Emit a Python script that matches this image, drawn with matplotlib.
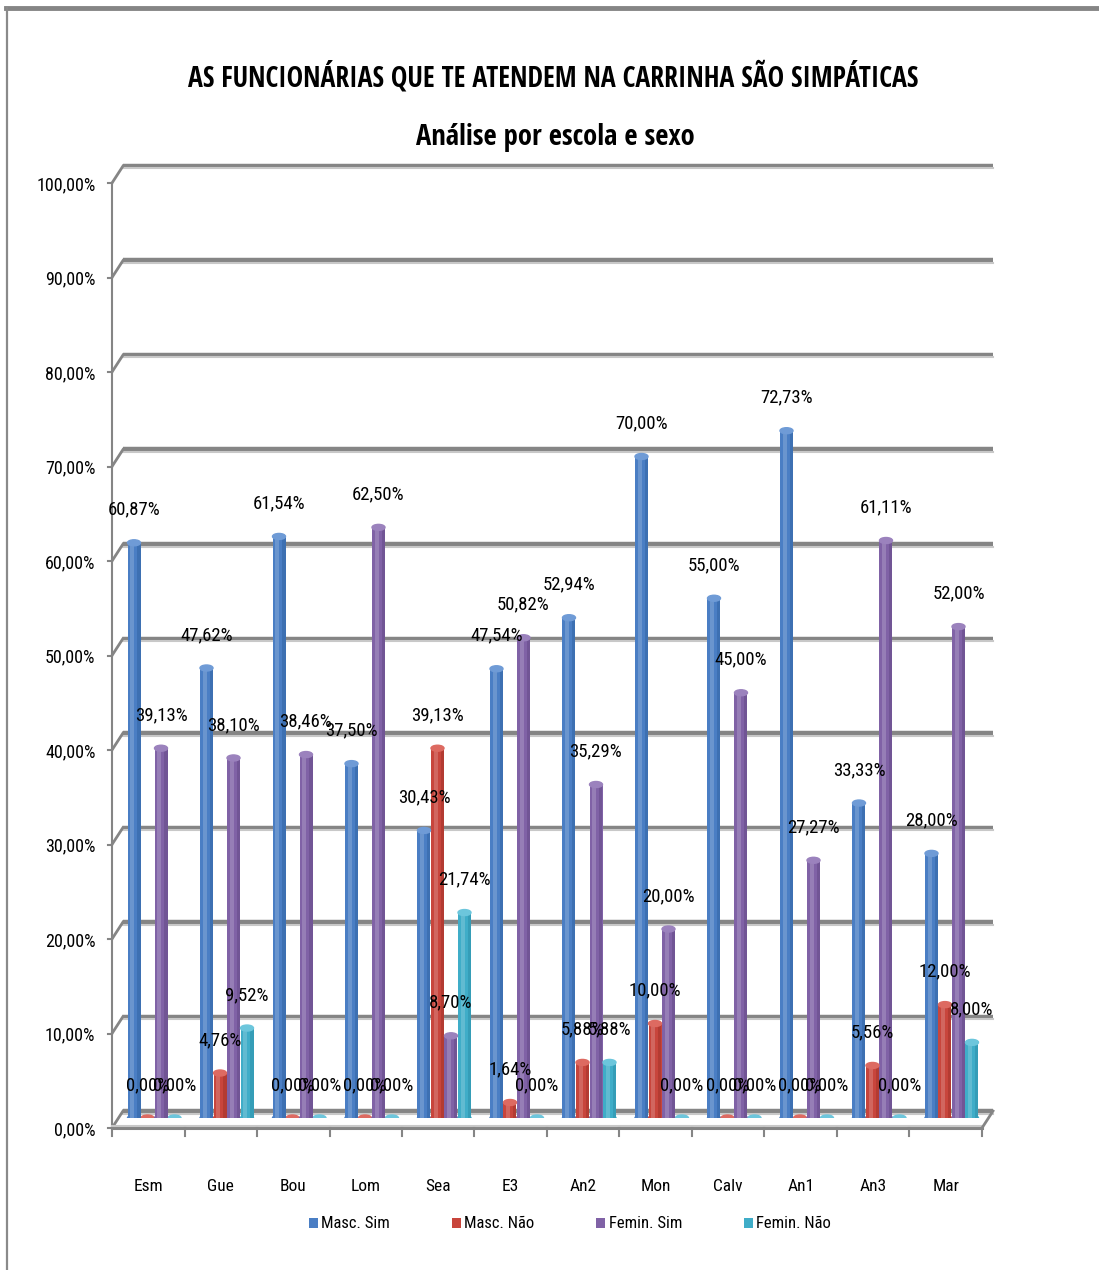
import matplotlib
matplotlib.use("Agg")
import matplotlib.pyplot as plt
from matplotlib.patches import Ellipse, Patch
import matplotlib.transforms as mtrans
import numpy as np

categories = ["Esm", "Gue", "Bou", "Lom", "Sea", "E3", "An2", "Mon", "Calv", "An1", "An3", "Mar"]
masc_sim = [60.87, 47.62, 61.54, 37.50, 30.43, 47.54, 52.94, 70.00, 55.00, 72.73, 33.33, 28.00]
masc_nao = [0.00, 4.76, 0.00, 0.00, 39.13, 1.64, 5.88, 10.00, 0.00, 0.00, 5.56, 12.00]
femin_sim = [39.13, 38.10, 38.46, 62.50, 8.70, 50.82, 35.29, 20.00, 45.00, 27.27, 61.11, 52.00]
femin_nao = [0.00, 9.52, 0.00, 0.00, 21.74, 0.00, 5.88, 0.00, 0.00, 0.00, 0.00, 8.00]
series_names = ["Masc. Sim", "Masc. Não", "Femin. Sim", "Femin. Não"]
yticks = [0, 10, 20, 30, 40, 50, 60, 70, 80, 90, 100]
title1 = "AS FUNCIONÁRIAS QUE TE ATENDEM NA CARRINHA SÃO SIMPÁTICAS"
title2 = "Análise por escola e sexo"

series = [masc_sim, masc_nao, femin_sim, femin_nao]
colors = ["#4a7ec4", "#c8453c", "#8062a6", "#3fadc8"]
caps = ["#6f9bd6", "#dd6a61", "#9b82bd", "#6cc6dc"]
darks = ["#2f5f9e", "#9a2f28", "#5f4782", "#2a8aa3"]

LBL = ["Roboto Condensed", "DejaVu Sans"]
TTL = ["Open Sans Condensed", "DejaVu Sans"]
plt.rcParams["font.family"] = LBL

W, H = 1099, 1270
fig = plt.figure(figsize=(W / 100, H / 100), dpi=100)
fig.patch.set_facecolor("white")

ax = fig.add_axes([112 / W, (H - 1118) / H, 870 / W, (1118 - 173) / H])
ax.set_xlim(-0.5, 11.5)
ax.set_ylim(0, 100)
for s in ax.spines.values():
    s.set_visible(False)
ax.patch.set_alpha(0)

pxx = 870 / 12.0
pxy = (1118 - 173) / 100.0
bdx = 11 / pxx
bdy = 7 / pxy
fdy = -10 / pxy

grid_c = "#858585"
light_c = "#c8c8c8"
for v in yticks:
    yb = v + bdy
    ax.plot([-0.5 + bdx, 11.5 + bdx], [yb, yb], color=grid_c, lw=3.2, clip_on=False, zorder=1, solid_capstyle="butt")
    ax.plot([-0.5 + bdx, 11.5 + bdx], [yb - 2.5 / pxy, yb - 2.5 / pxy], color=light_c, lw=1.5, clip_on=False, zorder=1)
    ax.plot([-0.5, -0.5 + bdx], [v + fdy, yb], color=grid_c, lw=2, clip_on=False, zorder=1)
    ax.plot([-0.5 - 4 / pxx, -0.5], [v + fdy, v + fdy], color=grid_c, lw=1.5, clip_on=False, zorder=1)

ax.plot([-0.5, -0.5], [fdy, 100 + fdy], color=grid_c, lw=1.5, clip_on=False, zorder=1)
ax.plot([-0.5, 11.5], [fdy, fdy], color=grid_c, lw=2.2, clip_on=False, zorder=1)
ax.plot([-0.5, 11.5], [fdy + 2 / pxy, fdy + 2 / pxy], color=light_c, lw=1.5, clip_on=False, zorder=1)
ax.plot([11.5, 11.5 + bdx], [fdy, bdy], color=grid_c, lw=2, clip_on=False, zorder=1)
for b in np.arange(-0.5, 12.0, 1.0):
    ax.plot([b, b], [fdy, fdy - 8 / pxy], color=grid_c, lw=1.5, clip_on=False, zorder=1)

ax.set_yticks(yticks)
ax.set_yticklabels([f"{v:.2f}".replace(".", ",") + "%" for v in yticks], fontsize=13)
ax.tick_params(axis="y", length=0, pad=12)
for lbl in ax.get_yticklabels():
    lbl.set_transform(lbl.get_transform() + mtrans.ScaledTranslation(0, -10 / 100, fig.dpi_scale_trans))

ax.set_xticks(range(len(categories)))
ax.set_xticklabels(categories, fontsize=12.5)
ax.tick_params(axis="x", length=0, pad=44)

bw = 13 / pxx
step = 13.5 / pxx
shift = 6 / pxx
cap_h = 6 / pxy
x = np.arange(len(categories))
for k, vals in enumerate(series):
    xs = x + shift + (k - 1.5) * step
    vals = np.array(vals)
    ax.bar(xs, vals, width=bw, color=colors[k], zorder=3, linewidth=0)
    ax.bar(xs - bw * 0.12, vals, width=bw * 0.3, color="white", alpha=0.18, zorder=3.1, linewidth=0)
    ax.bar(xs + bw * 0.38, vals, width=bw * 0.24, color=darks[k], alpha=0.45, zorder=3.1, linewidth=0)
    for xi, v in zip(xs, vals):
        ax.add_patch(Ellipse((xi, 0), bw, cap_h, color=colors[k] if v > 0 else caps[k], zorder=2.9))
        if v > 0:
            ax.add_patch(Ellipse((xi, v), bw, cap_h, color=caps[k], zorder=3.2))
        ax.annotate(f"{v:.2f}".replace(".", ",") + "%", (xi, v), xytext=(0, 33),
                    textcoords="offset pixels", ha="center", va="center", fontsize=13.5, zorder=5)

fig.text(553 / W, 1 - 78 / H, title1, ha="center", va="center", fontsize=20, fontweight="bold", family=TTL)
fig.text(555 / W, 1 - 138 / H, title2, ha="center", va="center", fontsize=20.5, fontweight="bold", family=TTL)

handles = [Patch(facecolor=c, edgecolor="none") for c in colors]
fig.legend(handles, series_names, loc="center", bbox_to_anchor=(570 / W, 1 - 1224 / H), ncol=4,
           frameon=False, fontsize=12, handlelength=0.55, handleheight=0.55, handletextpad=0.2,
           columnspacing=3.7)

fig.add_artist(plt.Line2D([6 / W, 1], [1 - 8 / H, 1 - 8 / H], color="#858585", lw=3.5, transform=fig.transFigure))
fig.add_artist(plt.Line2D([7 / W, 7 / W], [0, 1 - 8 / H], color="#8a8a8a", lw=1.6, transform=fig.transFigure))

fig.savefig("out.png", dpi=100)
